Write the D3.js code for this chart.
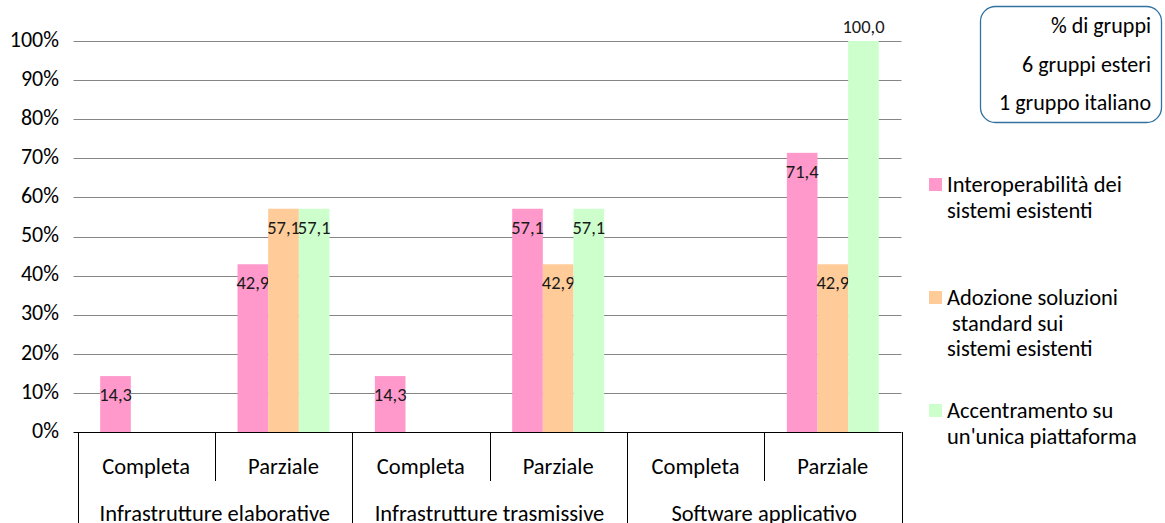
<!DOCTYPE html>
<html><head><meta charset="utf-8">
<script src="https://cdn.jsdelivr.net/npm/d3@7"></script>
<style>body{margin:0;background:#fff}svg{display:block;font-family:Carlito,Lato,"Liberation Sans",sans-serif}</style>
</head><body><svg id="c" width="1165" height="523"></svg>
<script>
const groups = ["Infrastrutture elaborative","Infrastrutture trasmissive","Software applicativo"];
const subcats = ["Completa","Parziale"];
const seriesNames = ["Interoperabilità dei\nsistemi esistenti","Adozione soluzioni\n standard sui\nsistemi esistenti","Accentramento su\nun'unica piattaforma"];
const seriesColors = ["#FF99CC","#FFCC99","#CCFFCC"];
const interoperabilita = [14.3,42.9,14.3,57.1,0,71.4];
const adozione = [0,57.1,0,42.9,0,42.9];
const accentramento = [0,57.1,0,57.1,0,100.0];
const yTicks = [0,10,20,30,40,50,60,70,80,90,100];
const infoLines = ["% di gruppi","6 gruppi esteri","1 gruppo italiano"];

const series = [interoperabilita, adozione, accentramento];
const cats = [];
groups.forEach(g => subcats.forEach(s => cats.push(g + "|" + s)));

const svg = d3.select("#c");
const L = 77.5, R = 901.5, T = 41, B = 432;
const x = d3.scaleBand().domain(cats).range([L, R]).paddingInner(0).paddingOuter(0);
const y = d3.scaleLinear().domain([0,100]).range([B, T]);
const xs = d3.scaleBand().domain(d3.range(series.length)).range([0, x.bandwidth()]).paddingInner(0).paddingOuter(0.74);

// gridlines
svg.append("g").selectAll("line").data(yTicks).join("line")
  .attr("x1", L - 4).attr("x2", R).attr("y1", d => Math.round(y(d))+0.5).attr("y2", d => Math.round(y(d))+0.5)
  .attr("stroke", d => d===0 ? "#000" : "#868686").attr("stroke-width", 1);

// y labels
svg.append("g").selectAll("text").data(yTicks).join("text")
  .attr("x", 59).attr("y", d => y(d) - 2).attr("dy", "0.35em").attr("text-anchor","end")
  .attr("font-size", 22).attr("fill","#000").text(d => d + "%");

// bars
series.forEach((vals, si) => {
  const g = svg.append("g");
  g.selectAll("rect").data(vals.map((v,i)=>({v, c:cats[i]}))).join("rect")
    .attr("x", d => x(d.c) + xs(si)).attr("width", xs.bandwidth())
    .attr("y", d => y(d.v)).attr("height", d => B - y(d.v))
    .attr("fill", seriesColors[si]);
  g.selectAll("text").data(vals.map((v,i)=>({v, c:cats[i]})).filter(d => d.v > 0)).join("text")
    .attr("x", d => x(d.c) + xs(si) + xs.bandwidth()/2)
    .attr("y", d => d.v >= 100 ? y(d.v) - 14 : y(d.v) + 18.5)
    .attr("dy","0.35em").attr("text-anchor","middle").attr("font-size", 18.5).attr("fill","#1a1a1a")
    .text(d => d3.format(".1f")(d.v).replace(".", ","));
});

// x axis structure
const ax = svg.append("g").attr("stroke","#000").attr("stroke-width",1);
const edges = d3.range(cats.length+1).map(i => L + i*x.bandwidth());
edges.forEach((e,i) => {
  const full = i % 2 === 0;
  ax.append("line").attr("x1", Math.round(e)+0.5).attr("x2", Math.round(e)+0.5)
    .attr("y1", B).attr("y2", full ? 523 : 481);
});
svg.append("g").selectAll("text").data(cats).join("text")
  .attr("x", d => x(d) + x.bandwidth()/2).attr("y", 474)
  .attr("text-anchor","middle").attr("font-size", 22.5).attr("fill","#000")
  .text(d => d.split("|")[1]);
svg.append("g").selectAll("text").data(groups).join("text")
  .attr("x", (d,i) => L + (2*i+1)*x.bandwidth()).attr("y", 521)
  .attr("text-anchor","middle").attr("font-size", 22.5).attr("fill","#000").text(d => d);

// info box
svg.append("rect").attr("x", 980.5).attr("y", 6.5).attr("width", 181).attr("height", 116)
  .attr("rx", 15).attr("fill","#fff").attr("stroke","#31729F").attr("stroke-width",1.3);
svg.append("g").selectAll("text").data(infoLines).join("text")
  .attr("x", 1151).attr("y", (d,i) => 33 + i*38.5)
  .attr("text-anchor","end").attr("font-size", 22).attr("fill","#000").text(d => d);

// legend
const legTop = [178, 291, 404];
const lg = svg.append("g");
seriesNames.forEach((n, i) => {
  lg.append("rect").attr("x", 929).attr("y", legTop[i]).attr("width", 13).attr("height", 13).attr("fill", seriesColors[i]);
  const t = lg.append("text").attr("font-size", 22.5).attr("fill","#000").attr("xml:space","preserve");
  n.split("\n").forEach((line, j) => {
    t.append("tspan").attr("x", 947).attr("y", legTop[i] + 14 + j*25.5).text(line);
  });
});
</script></body></html>
